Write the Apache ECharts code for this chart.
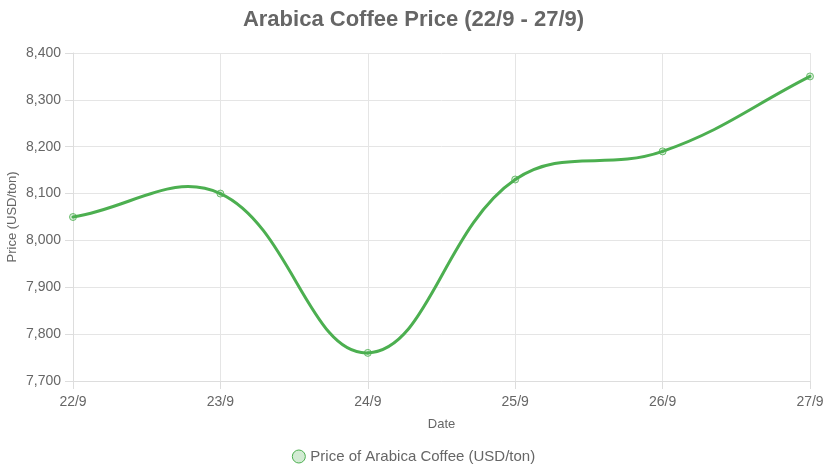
<!DOCTYPE html>
<html><head><meta charset="utf-8">
<script src="https://cdn.jsdelivr.net/npm/echarts@6/dist/echarts.min.js"></script>
<style>html,body{margin:0;padding:0;background:#fff}#c{width:827px;height:475px}</style>
</head><body><div id="c"></div>
<script>
const titleText = 'Arabica Coffee Price (22/9 - 27/9)';
const categories = ['22/9','23/9','24/9','25/9','26/9','27/9'];
const prices = [8050, 8100, 7760, 8130, 8190, 8350];
const seriesName = 'Price of Arabica Coffee (USD/ton)';
const xName = 'Date';
const yName = 'Price (USD/ton)';
const yMin = 7700, yMax = 8400, yStep = 100;

const font = '"Liberation Sans", Arial, Helvetica, sans-serif';
const green = '#4caf50';
const greenFill = 'rgba(76,175,80,0.25)';
const tension = 0.4;

// Chart.js-style spline control points, computed in pixel space from the axes
function splineCP(p0, p1, p2) {
  const d01 = Math.hypot(p1[0]-p0[0], p1[1]-p0[1]);
  const d12 = Math.hypot(p2[0]-p1[0], p2[1]-p1[1]);
  let s01 = d01 / (d01 + d12), s12 = d12 / (d01 + d12);
  if (!isFinite(s01)) s01 = 0;
  if (!isFinite(s12)) s12 = 0;
  const fa = tension * s01, fb = tension * s12;
  return {
    prev: [p1[0] - fa*(p2[0]-p0[0]), p1[1] - fa*(p2[1]-p0[1])],
    next: [p1[0] + fb*(p2[0]-p0[0]), p1[1] + fb*(p2[1]-p0[1])]
  };
}
function renderSegment(params, api) {
  const n = prices.length;
  const i = params.dataIndex;
  if (i >= n - 1) return null;
  const P = k => { const j = Math.max(0, Math.min(n-1, k)); return api.coord([j, prices[j]]); };
  const a = P(i), b = P(i+1);
  const cpA = splineCP(P(i-1), a, b).next;
  const cpB = splineCP(a, b, P(i+2)).prev;
  return {
    type: 'bezierCurve',
    shape: {x1: a[0], y1: a[1], x2: b[0], y2: b[1], cpx1: cpA[0], cpy1: cpA[1], cpx2: cpB[0], cpy2: cpB[1]},
    style: {stroke: green, lineWidth: 3, fill: 'none', lineCap: 'round'}
  };
}

const chart = echarts.init(document.getElementById('c'), null, {renderer:'canvas'});
chart.setOption({
  animation: false,
  textStyle: {fontFamily: font},
  title: {text: titleText, left: 'center', top: 4,
    textStyle: {fontSize: 22, fontWeight: 'bold', color: '#666', fontFamily: font}},
  grid: {left: 73, right: 17, top: 53, bottom: 94, containLabel: false, outerBoundsMode: 'none'},
  legend: {bottom: 6, left: 'center', icon: 'circle', itemWidth: 13, itemHeight: 13, itemGap: 10,
    textStyle: {fontSize: 15, color: '#666', fontFamily: font},
    data: [{name: seriesName, itemStyle: {color: greenFill, borderColor: green, borderWidth: 1}}]},
  xAxis: {type: 'category', data: categories, boundaryGap: false,
    name: xName, nameLocation: 'middle', nameGap: 37, nameMoveOverlap: false,
    nameTextStyle: {fontSize: 13, color: '#666', fontFamily: font},
    axisLine: {lineStyle: {color: '#ddd'}},
    axisTick: {show: true, length: 8, lineStyle: {color: '#ddd'}},
    axisLabel: {fontSize: 14, color: '#666', margin: 14, fontFamily: font},
    splitLine: {show: true, lineStyle: {color: '#e5e5e5'}}},
  yAxis: {type: 'value', min: yMin, max: yMax, interval: yStep,
    name: yName, nameLocation: 'middle', nameGap: 54, nameMoveOverlap: false,
    nameTextStyle: {fontSize: 13, color: '#666', fontFamily: font},
    axisLine: {show: true, lineStyle: {color: '#ddd'}},
    axisTick: {show: true, length: 8, lineStyle: {color: '#ddd'}},
    axisLabel: {fontSize: 14, color: '#666', margin: 12, fontFamily: font,
      formatter: v => v.toLocaleString('en-US')},
    splitLine: {show: true, lineStyle: {color: '#e5e5e5'}}},
  series: [
    {name: seriesName, type: 'custom', renderItem: renderSegment,
      data: prices.map((v, i) => [i, v]), encode: {x: 0, y: 1}, z: 2,
      itemStyle: {color: green}},
    {name: seriesName, type: 'scatter', data: prices.map((v, i) => [i, v]),
      symbol: 'circle', symbolSize: 7, z: 3,
      itemStyle: {color: greenFill, borderColor: green, borderWidth: 1}}
  ]
});
</script></body></html>
